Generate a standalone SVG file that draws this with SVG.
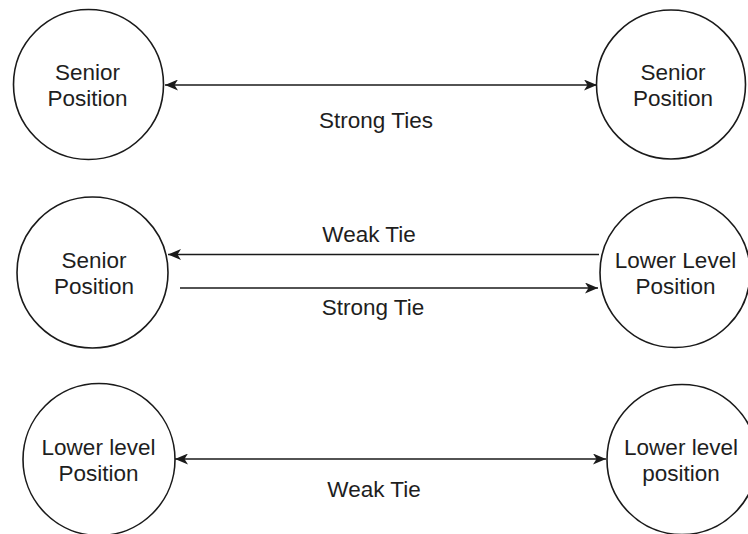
<svg xmlns="http://www.w3.org/2000/svg" width="748" height="534" viewBox="0 0 748 534">
  <style>
    .node circle { fill: #ffffff; stroke: #1a1a1a; stroke-width: 1.6; }
    .node text, .label { font-family: "Liberation Sans", Arial, Helvetica, sans-serif; font-size: 22.5px; fill: #1e1e1e; text-anchor: middle; }
    .edge { stroke: #1a1a1a; stroke-width: 1.6; fill: none; }
  </style>
  <defs>
    <marker id="arrow" viewBox="0 0 13 11" refX="13" refY="5.5" markerWidth="13" markerHeight="11" markerUnits="userSpaceOnUse" orient="auto-start-reverse">
      <path d="M0,0 L13,5.5 L0,11 L3.5,5.5 Z" fill="#1a1a1a"/>
    </marker>
  </defs>
  <rect width="748" height="534" fill="#ffffff"/>

  <g id="connectors">
    <line class="edge" x1="165" y1="85" x2="597" y2="85" marker-start="url(#arrow)" marker-end="url(#arrow)"/>
    <line class="edge" x1="599" y1="254.5" x2="168" y2="254.5" marker-end="url(#arrow)"/>
    <line class="edge" x1="180" y1="288" x2="598" y2="288" marker-end="url(#arrow)"/>
    <line class="edge" x1="175" y1="459" x2="606" y2="459" marker-start="url(#arrow)" marker-end="url(#arrow)"/>
  </g>

  <g id="labels">
    <text class="label" x="376" y="128">Strong Ties</text>
    <text class="label" x="369" y="242">Weak Tie</text>
    <text class="label" x="373" y="315">Strong Tie</text>
    <text class="label" x="374" y="497">Weak Tie</text>
  </g>

  <g id="senior-top-left" class="node">
    <circle cx="88.5" cy="84.5" r="75"/>
    <text x="87.5" y="80">Senior</text>
    <text x="87.5" y="106">Position</text>
  </g>
  <g id="senior-top-right" class="node">
    <circle cx="671" cy="84.5" r="74.5"/>
    <text x="673" y="80">Senior</text>
    <text x="673" y="106">Position</text>
  </g>
  <g id="senior-middle" class="node">
    <circle cx="92.5" cy="272.5" r="75.5"/>
    <text x="94" y="268">Senior</text>
    <text x="94" y="294">Position</text>
  </g>
  <g id="lower-middle" class="node">
    <circle cx="675" cy="272.5" r="75"/>
    <text x="675.5" y="268">Lower Level</text>
    <text x="675.5" y="294">Position</text>
  </g>
  <g id="lower-bottom-left" class="node">
    <circle cx="99" cy="459.5" r="76"/>
    <text x="98.5" y="455">Lower level</text>
    <text x="98.5" y="481">Position</text>
  </g>
  <g id="lower-bottom-right" class="node">
    <circle cx="682" cy="459.5" r="75"/>
    <text x="681" y="455">Lower level</text>
    <text x="681" y="481">position</text>
  </g>
</svg>
